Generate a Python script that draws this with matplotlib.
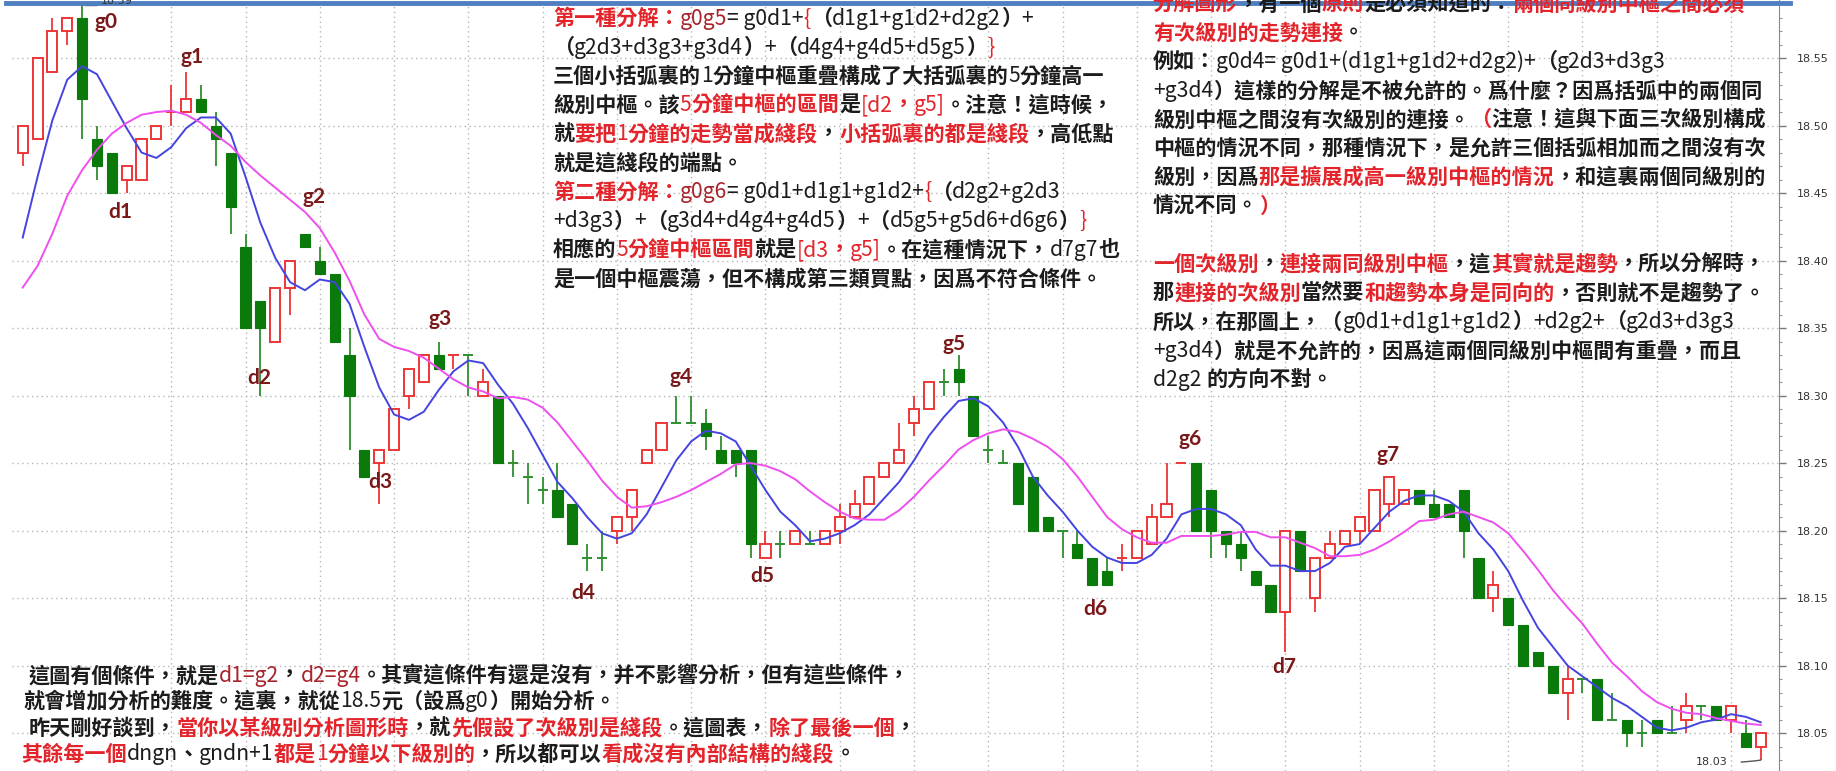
import re
import matplotlib
matplotlib.use('Agg')
import matplotlib.pyplot as plt
from matplotlib.lines import Line2D

# one-minute candles (price 18.xx)
opens = [
    18.48, 18.49, 18.54, 18.57, 18.58, 18.49, 18.48, 18.46, 18.46, 18.49,
    18.51, 18.51, 18.52, 18.50, 18.48, 18.41, 18.37, 18.34, 18.38, 18.42,
    18.40, 18.39, 18.33, 18.26, 18.25, 18.26, 18.30, 18.31, 18.33, 18.33,
    18.33, 18.30, 18.30, 18.25, 18.24, 18.23, 18.23, 18.22, 18.18, 18.18,
    18.20, 18.21, 18.25, 18.26, 18.28, 18.28, 18.28, 18.26, 18.26, 18.26,
    18.18, 18.19, 18.19, 18.19, 18.19, 18.20, 18.21, 18.22, 18.24, 18.25,
    18.28, 18.29, 18.31, 18.32, 18.30, 18.26, 18.25, 18.25, 18.24, 18.21,
    18.20, 18.19, 18.18, 18.17, 18.18, 18.18, 18.19, 18.21, 18.25, 18.25,
    18.23, 18.20, 18.19, 18.17, 18.16, 18.14, 18.20, 18.15, 18.18, 18.19,
    18.20, 18.20, 18.22, 18.22, 18.23, 18.22, 18.22, 18.23, 18.18, 18.15,
    18.15, 18.13, 18.11, 18.10, 18.08, 18.09, 18.09, 18.06, 18.06, 18.05,
    18.06, 18.05, 18.06, 18.07, 18.07, 18.06, 18.05, 18.04]
highs = [
    18.50, 18.55, 18.58, 18.58, 18.59, 18.50, 18.48, 18.47, 18.49, 18.50,
    18.53, 18.54, 18.53, 18.51, 18.48, 18.42, 18.37, 18.38, 18.40, 18.42,
    18.41, 18.39, 18.35, 18.26, 18.26, 18.29, 18.32, 18.33, 18.34, 18.33,
    18.33, 18.32, 18.30, 18.26, 18.25, 18.24, 18.25, 18.22, 18.19, 18.20,
    18.21, 18.23, 18.26, 18.28, 18.30, 18.30, 18.29, 18.27, 18.26, 18.26,
    18.20, 18.20, 18.20, 18.20, 18.20, 18.22, 18.23, 18.24, 18.25, 18.28,
    18.30, 18.31, 18.32, 18.33, 18.30, 18.27, 18.26, 18.25, 18.24, 18.21,
    18.20, 18.20, 18.18, 18.18, 18.19, 18.20, 18.22, 18.25, 18.25, 18.25,
    18.23, 18.20, 18.20, 18.17, 18.16, 18.20, 18.20, 18.18, 18.20, 18.20,
    18.21, 18.23, 18.24, 18.23, 18.23, 18.23, 18.22, 18.23, 18.18, 18.17,
    18.15, 18.13, 18.11, 18.10, 18.10, 18.09, 18.09, 18.08, 18.06, 18.06,
    18.06, 18.07, 18.08, 18.07, 18.07, 18.07, 18.06, 18.05]
lows = [
    18.47, 18.49, 18.54, 18.56, 18.49, 18.46, 18.45, 18.45, 18.46, 18.49,
    18.50, 18.51, 18.51, 18.47, 18.42, 18.35, 18.30, 18.34, 18.36, 18.41,
    18.39, 18.34, 18.26, 18.24, 18.22, 18.26, 18.29, 18.31, 18.32, 18.32,
    18.30, 18.30, 18.25, 18.24, 18.22, 18.22, 18.21, 18.19, 18.17, 18.17,
    18.19, 18.20, 18.25, 18.26, 18.28, 18.28, 18.26, 18.25, 18.24, 18.18,
    18.18, 18.18, 18.19, 18.19, 18.19, 18.19, 18.21, 18.22, 18.24, 18.25,
    18.27, 18.29, 18.30, 18.30, 18.27, 18.25, 18.25, 18.22, 18.20, 18.20,
    18.18, 18.18, 18.16, 18.16, 18.17, 18.18, 18.19, 18.21, 18.25, 18.20,
    18.18, 18.18, 18.17, 18.16, 18.14, 18.11, 18.17, 18.14, 18.18, 18.19,
    18.19, 18.20, 18.21, 18.22, 18.22, 18.21, 18.21, 18.18, 18.15, 18.14,
    18.13, 18.10, 18.10, 18.08, 18.06, 18.08, 18.06, 18.06, 18.04, 18.04,
    18.05, 18.05, 18.05, 18.06, 18.06, 18.05, 18.04, 18.03]
closes = [
    18.50, 18.55, 18.57, 18.58, 18.52, 18.47, 18.45, 18.47, 18.49, 18.50,
    18.51, 18.52, 18.51, 18.49, 18.44, 18.35, 18.35, 18.38, 18.40, 18.41,
    18.39, 18.34, 18.30, 18.24, 18.26, 18.29, 18.32, 18.33, 18.32, 18.33,
    18.33, 18.31, 18.25, 18.25, 18.24, 18.23, 18.21, 18.19, 18.18, 18.18,
    18.21, 18.23, 18.26, 18.28, 18.28, 18.28, 18.27, 18.25, 18.25, 18.19,
    18.19, 18.19, 18.20, 18.19, 18.20, 18.21, 18.22, 18.24, 18.25, 18.26,
    18.29, 18.31, 18.31, 18.31, 18.27, 18.26, 18.25, 18.22, 18.20, 18.20,
    18.20, 18.18, 18.16, 18.16, 18.18, 18.20, 18.21, 18.22, 18.25, 18.20,
    18.20, 18.19, 18.18, 18.16, 18.14, 18.20, 18.17, 18.18, 18.19, 18.20,
    18.21, 18.23, 18.24, 18.23, 18.22, 18.21, 18.21, 18.20, 18.15, 18.16,
    18.13, 18.10, 18.10, 18.08, 18.09, 18.09, 18.06, 18.06, 18.05, 18.05,
    18.05, 18.05, 18.07, 18.07, 18.06, 18.07, 18.04, 18.05]

# the two moving-average lines (blue = short, magenta = long)
ma_short = [
    18.417, 18.462, 18.504, 18.534, 18.544, 18.538, 18.518, 18.498, 18.480, 18.476,
    18.484, 18.498, 18.506, 18.506, 18.494, 18.462, 18.428, 18.402, 18.384, 18.378,
    18.386, 18.384, 18.368, 18.336, 18.306, 18.286, 18.282, 18.288, 18.304, 18.318,
    18.326, 18.324, 18.308, 18.294, 18.276, 18.256, 18.236, 18.224, 18.210, 18.198,
    18.194, 18.198, 18.212, 18.232, 18.252, 18.266, 18.274, 18.272, 18.266, 18.248,
    18.230, 18.214, 18.204, 18.192, 18.194, 18.198, 18.204, 18.212, 18.224, 18.236,
    18.252, 18.270, 18.284, 18.296, 18.298, 18.292, 18.280, 18.262, 18.240, 18.226,
    18.214, 18.200, 18.188, 18.180, 18.176, 18.176, 18.182, 18.194, 18.212, 18.216,
    18.216, 18.212, 18.204, 18.186, 18.174, 18.174, 18.170, 18.170, 18.176, 18.188,
    18.190, 18.202, 18.214, 18.222, 18.226, 18.226, 18.222, 18.214, 18.198, 18.186,
    18.170, 18.148, 18.128, 18.114, 18.100, 18.092, 18.084, 18.076, 18.070, 18.062,
    18.054, 18.052, 18.054, 18.058, 18.060, 18.064, 18.062, 18.058]
ma_long = [
    18.380, 18.396, 18.420, 18.448, 18.467, 18.482, 18.494, 18.502, 18.508, 18.510,
    18.511, 18.508, 18.502, 18.493, 18.485, 18.473, 18.463, 18.454, 18.445, 18.436,
    18.424, 18.406, 18.385, 18.360, 18.342, 18.336, 18.333, 18.328, 18.320, 18.312,
    18.306, 18.303, 18.298, 18.299, 18.297, 18.291, 18.280, 18.266, 18.252, 18.237,
    18.225, 18.217, 18.218, 18.221, 18.225, 18.230, 18.236, 18.242, 18.249, 18.250,
    18.248, 18.244, 18.238, 18.229, 18.221, 18.214, 18.209, 18.208, 18.208, 18.215,
    18.225, 18.237, 18.248, 18.260, 18.267, 18.272, 18.275, 18.273, 18.268, 18.262,
    18.253, 18.240, 18.225, 18.210, 18.201, 18.195, 18.191, 18.191, 18.196, 18.196,
    18.196, 18.197, 18.199, 18.199, 18.195, 18.195, 18.191, 18.187, 18.181, 18.181,
    18.182, 18.186, 18.192, 18.199, 18.207, 18.208, 18.212, 18.214, 18.210, 18.206,
    18.198, 18.185, 18.171, 18.156, 18.143, 18.131, 18.116, 18.102, 18.092, 18.081,
    18.073, 18.068, 18.065, 18.064, 18.061, 18.059, 18.057, 18.056]

# turning point labels: name, candle position, price
point_names = ['g0', 'g1', 'd1', 'g2', 'd2', 'g3', 'd3', 'g4', 'd4',
               'g5', 'd5', 'g6', 'd6', 'g7', 'd7']
point_x = [5.6, 11.4, 6.6, 19.6, 15.9, 28.1, 24.1, 44.3, 37.7,
           62.7, 49.8, 78.6, 72.2, 91.9, 84.9]
point_y = [18.577, 18.551, 18.436, 18.447, 18.313, 18.357, 18.236, 18.314, 18.154,
           18.338, 18.166, 18.268, 18.142, 18.256, 18.099]

price_ticks = [18.05, 18.10, 18.15, 18.20, 18.25, 18.30, 18.35, 18.40, 18.45, 18.50, 18.55]

K = '#1c1c1c'
R = '#e3242b'
DR = '#a8232a'

mid_lines = [
    [('第一種分解：', R), ('g0g5', DR), ('= g0d1+', K), ('{', R), ('（d1g1+g1d2+d2g2）+', K)],
    [('（g2d3+d3g3+g3d4）+（d4g4+g4d5+d5g5）', K), ('}', R)],
    [('三個小括弧裏的1分鐘中樞重疊構成了大括弧裏的5分鐘高一', K)],
    [('級別中樞。該', K), ('5分鐘中樞的區間', R), ('是', K), ('[d2，g5]', R), ('。注意！這時候，', K)],
    [('就', K), ('要把1分鐘的走勢當成綫段', R), ('，', K), ('小括弧裏的都是綫段', R), ('，高低點', K)],
    [('就是這綫段的端點。', K)],
    [('第二種分解：', R), ('g0g6', DR), ('= g0d1+d1g1+g1d2+', K), ('{', R), ('（d2g2+g2d3', K)],
    [('+d3g3）+（g3d4+d4g4+g4d5）+（d5g5+g5d6+d6g6）', K), ('}', R)],
    [('相應的', K), ('5分鐘中樞區間', R), ('就是', K), ('[d3，g5]', R), ('。在這種情況下，d7g7也', K)],
    [('是一個中樞震蕩，但不構成第三類買點，因爲不符合條件。', K)],
]
right_lines = [
    [('分解圖形', R), ('，有一個', K), ('原則', R), ('是必須知道的：', K), ('兩個同級別中樞之間必須', R)],
    [('有次級別的走勢連接', R), ('。', K)],
    [('例如：g0d4= g0d1+(d1g1+g1d2+d2g2)+（g2d3+d3g3', K)],
    [('+g3d4）這樣的分解是不被允許的。爲什麼？因爲括弧中的兩個同', K)],
    [('級別中樞之間沒有次級別的連接。', K), ('（', R), ('注意！這與下面三次級別構成', K)],
    [('中樞的情況不同，那種情況下，是允許三個括弧相加而之間沒有次', K)],
    [('級別，因爲', K), ('那是擴展成高一級別中樞的情況', R), ('，和這裏兩個同級別的', K)],
    [('情況不同。', K), ('）', R)],
    [],
    [('一個次級別', R), ('，', K), ('連接兩同級別中樞', R), ('，這', K), ('其實就是趨勢', R), ('，所以分解時，', K)],
    [('那', K), ('連接的次級別', R), ('當然要', K), ('和趨勢本身是同向的', R), ('，否則就不是趨勢了。', K)],
    [('所以，在那圖上，（g0d1+d1g1+g1d2）+d2g2+（g2d3+d3g3', K)],
    [('+g3d4）就是不允許的，因爲這兩個同級別中樞間有重疊，而且', K)],
    [('d2g2 的方向不對。', K)],
]
bottom_lines = [
    [('這圖有個條件，就是', K), ('d1=g2', DR), ('，', K), ('d2=g4', DR),
     ('。其實這條件有還是沒有，并不影響分析，但有這些條件，', K)],
    [('就會增加分析的難度。這裏，就從18.5元（設爲g0）開始分析。', K)],
    [('昨天剛好談到，', K), ('當你以某級別分析圖形時', R), ('，就', K), ('先假設了次級別是綫段', R),
     ('。這圖表，', K), ('除了最後一個', R), ('，', K)],
    [('其餘每一個', R), ('dngn、gndn+1', K), ('都是1分鐘以下級別的', R), ('，所以都可以', K),
     ('看成沒有內部結構的綫段', R), ('。', K)],
]

W, H = 1836, 771
CJK = ['Noto Sans CJK TC', 'DejaVu Sans']
STEP = 14.855   # pixels between candles
X0 = 22.7       # pixel of first candle
RIGHT = 1779    # pixel of price axis

UP = '#ee3535'
DOWN = '#0a7a0a'
DOWN_WICK = '#2f8f2f'

fig = plt.figure(figsize=(W / 100, H / 100), dpi=100)
fig.patch.set_facecolor('white')
ax = fig.add_axes([0, 0, RIGHT / W, 1])
ax.set_xlim(-X0 / STEP, (RIGHT - X0) / STEP)
ax.set_ylim(18.0219, 18.593)

# dotted grid
grid_style = dict(color='#b5b5b5', lw=1.0, linestyle=(0, (1, 2.5)), zorder=0)
ax.hlines(price_ticks, -0.72, (RIGHT - X0) / STEP, **grid_style)
ax.vlines(list(range(10, 118, 5)), 18.0219, 18.593, **grid_style)

# candles
bw = 0.68
for i in range(len(closes)):
    o, h, l, c = opens[i], highs[i], lows[i], closes[i]
    if c > o:
        up = True
    elif c < o:
        up = False
    else:
        up = i > 0 and c > closes[i - 1]
    lo, hi = min(o, c), max(o, c)
    if up:
        if h > hi:
            ax.vlines(i, hi, h, color=UP, lw=1.3, zorder=2)
        if l < lo:
            ax.vlines(i, l, lo, color=UP, lw=1.3, zorder=2)
        if hi - lo > 0.001:
            ax.bar(i, hi - lo, bottom=lo, width=bw, facecolor='white', edgecolor=UP, lw=1.4, zorder=2)
        else:
            ax.hlines(c, i - bw / 2, i + bw / 2, color=UP, lw=1.4, zorder=2)
    else:
        if h > l:
            ax.vlines(i, l, h, color=DOWN_WICK, lw=1.3, zorder=1)
        if hi - lo > 0.001:
            ax.bar(i, hi - lo, bottom=lo, width=bw, facecolor=DOWN, edgecolor=DOWN, lw=0.8, zorder=2)
        else:
            ax.hlines(c, i - bw / 2, i + bw / 2, color=DOWN_WICK, lw=1.4, zorder=2)

xs = list(range(len(closes)))
ax.plot(xs, ma_short, color='#4444e0', lw=1.4, zorder=3)
ax.plot(xs, ma_long, color='#ee4fee', lw=1.4, zorder=3)

for name, px, py in zip(point_names, point_x, point_y):
    ax.text(px, py, name, ha='center', va='center', color='#7a1919', fontsize=15,
            fontweight='bold', family=['Lato', 'DejaVu Sans'], zorder=4)

# price axis on the right
for s in ['left', 'top', 'bottom']:
    ax.spines[s].set_visible(False)
ax.spines['right'].set_color('#8a8a8a')
ax.set_xticks([])
ax.yaxis.tick_right()
ax.set_yticks(price_ticks)
ax.set_yticklabels(['%.2f' % v for v in price_ticks])
ax.set_yticks([v / 100 for v in range(1803, 1859)], minor=True)
ax.tick_params(axis='y', which='major', length=5, width=1, color='#777777',
               labelsize=8, labelcolor='#333333', pad=8)
ax.tick_params(axis='y', which='minor', length=2.5, width=0.8, color='#999999')

# high / low price notes
fig.text(101 / W, 1 - 1 / H, '18.59', fontsize=8, color='#333333', va='center')
fig.add_artist(Line2D([85 / W, 96 / W], [1 - 5 / H, 1 - 5 / H], color='#555555', lw=1))
ax.text(len(closes) - 5.4, lows[-1] - 0.0015, '18.03', fontsize=8, color='#333333', va='center')
ax.plot([len(closes) - 2.3, len(closes) - 1.3, len(closes) - 1],
        [lows[-1] - 0.0015, lows[-1] - 0.0005, lows[-1]], color='#555555', lw=1)

# blue frame line on top
fig.add_artist(Line2D([6 / W, 1790 / W], [1 - 2.5 / H, 1 - 2.5 / H], color='#4f7fc0', lw=3.5))

# the commentary text, drawn run by run so colours can change inside a line
renderer = fig.canvas.get_renderer()


def put_runs(x, y, runs, size=15.2):
    for txt, col in runs:
        # Chinese parts heavier, latin parts plain, like the screenshot
        for part in re.findall(r'[\x00-\x7f]+|[^\x00-\x7f]+', txt):
            weight = 'normal' if part.isascii() else 'bold'
            t = fig.text(x / W, 1 - y / H, part, color=col, fontsize=size, family=CJK,
                         fontweight=weight, ha='left', va='center', zorder=5)
            x += t.get_window_extent(renderer).width


for k, runs in enumerate(mid_lines):
    put_runs(553, 18.7 + k * 28.9, runs)
for k, runs in enumerate(right_lines):
    put_runs(1153, 3.9 + k * 28.9, runs)
bottom_x = [29, 23, 29, 21]
bottom_y = [675.7, 701.4, 728.3, 754.1]
for runs, bx, by in zip(bottom_lines, bottom_x, bottom_y):
    put_runs(bx, by, runs)

fig.savefig('out.png', dpi=100, facecolor='white')
